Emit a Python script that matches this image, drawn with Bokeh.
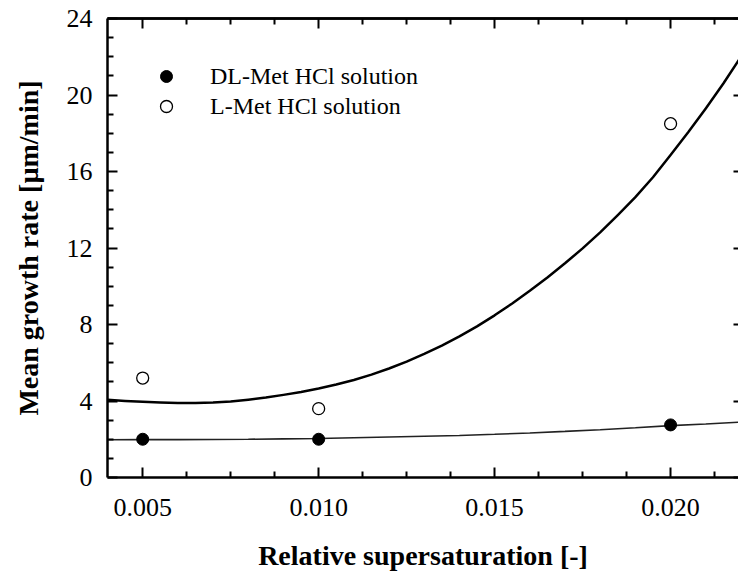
from bokeh.plotting import figure
from bokeh.models import (LinearAxis, FixedTicker, Legend, LegendItem, Range1d,
                          PrintfTickFormatter, ColumnDataSource)
from bokeh.embed import file_html
from bokeh.resources import INLINE

# ---- data ----
sigma = [0.005, 0.010, 0.020]
dl_rate = [2.0, 2.0, 2.75]
l_rate = [5.2, 3.6, 18.5]

# fitted curves
fit_l_x = [0.0040, 0.0045, 0.0050, 0.0055, 0.0060, 0.0065, 0.0070, 0.0075,
           0.0080, 0.0085, 0.0090, 0.0095, 0.0100, 0.0105, 0.0110, 0.0115,
           0.0120, 0.0125, 0.0130, 0.0135, 0.0140, 0.0145, 0.0150, 0.0155,
           0.0160, 0.0165, 0.0170, 0.0175, 0.0180, 0.0185, 0.0190, 0.0195,
           0.0200, 0.0205, 0.0210, 0.0215, 0.0220]
fit_l_y = [4.06, 4.00, 3.96, 3.92, 3.90, 3.89, 3.92, 3.98,
           4.07, 4.18, 4.32, 4.47, 4.65, 4.86, 5.10, 5.38,
           5.70, 6.06, 6.46, 6.90, 7.38, 7.90, 8.48, 9.10,
           9.76, 10.46, 11.20, 11.98, 12.82, 13.72, 14.66, 15.70,
           16.86, 18.05, 19.30, 20.60, 22.00]
fit_dl_x = [0.004, 0.005, 0.006, 0.007, 0.008, 0.009, 0.010, 0.011, 0.012, 0.013,
            0.014, 0.015, 0.016, 0.017, 0.018, 0.019, 0.020, 0.021, 0.022]
fit_dl_y = [1.97, 1.98, 1.98, 1.99, 2.00, 2.02, 2.04, 2.08, 2.12, 2.16,
            2.20, 2.26, 2.33, 2.41, 2.50, 2.60, 2.71, 2.80, 2.90]

x_ticks = [0.005, 0.010, 0.015, 0.020]
x_minor = [0.00625, 0.0075, 0.00875, 0.01125, 0.0125, 0.01375,
           0.01625, 0.0175, 0.01875, 0.02125]
y_ticks = [0, 4, 8, 12, 16, 20, 24]
y_minor = [1, 2, 3, 5, 6, 7, 9, 10, 11, 13, 14, 15, 17, 18, 19, 21, 22, 23]

labels = ["DL-Met HCl solution", "L-Met HCl solution"]
x_title = "Relative supersaturation [-]"
y_title = "Mean growth rate [\u00b5m/min]"

FONT = "Liberation Serif"

p = figure(width=738, height=574, output_backend="svg", toolbar_location=None,
           x_range=Range1d(0.004, 0.02193), y_range=Range1d(0, 24),
           min_border_left=107, min_border_right=0, min_border_top=18,
           min_border_bottom=97)
p.outline_line_color = None
p.grid.visible = False
p.background_fill_color = "white"
p.border_fill_color = "white"

src_l = ColumnDataSource(dict(x=fit_l_x, y=fit_l_y))
src_dl = ColumnDataSource(dict(x=fit_dl_x, y=fit_dl_y))
pts = ColumnDataSource(dict(x=sigma, dl=dl_rate, l=l_rate))

p.line("x", "y", source=src_l, line_color="black", line_width=2.5,
       line_join="round")
p.line("x", "y", source=src_dl, line_color="#222222", line_width=1.6)

r_dl = p.scatter("x", "dl", source=pts, marker="circle", size=12,
                 fill_color="black", line_color="black")
r_l = p.scatter("x", "l", source=pts, marker="circle", size=12,
                fill_color="white", line_color="black", line_width=1.3)


def style_axis(ax, ticks, minor, major_len=10, minor_len=6):
    ax.ticker = FixedTicker(ticks=ticks, minor_ticks=minor)
    ax.axis_line_color = "black"
    ax.axis_line_width = 2.5
    ax.major_tick_line_color = "black"
    ax.major_tick_line_width = 2
    ax.minor_tick_line_color = "black"
    ax.minor_tick_line_width = 2
    ax.major_tick_in = major_len
    ax.major_tick_out = 0
    ax.minor_tick_in = minor_len
    ax.minor_tick_out = 0
    ax.major_label_text_font = FONT
    ax.major_label_text_font_size = "26px"
    ax.major_label_text_color = "black"


xa = p.xaxis[0]
style_axis(xa, x_ticks, x_minor)
xa.formatter = PrintfTickFormatter(format="%.3f")
xa.major_label_standoff = 21
xa.axis_label = x_title
xa.axis_label_text_font = FONT
xa.axis_label_text_font_style = "bold"
xa.axis_label_text_font_size = "28px"
xa.axis_label_text_color = "black"
xa.axis_label_standoff = 21

ya = p.yaxis[0]
style_axis(ya, y_ticks, y_minor)
ya.major_label_standoff = 15
ya.axis_label = y_title
ya.axis_label_text_font = FONT
ya.axis_label_text_font_style = "bold"
ya.axis_label_text_font_size = "28px"
ya.axis_label_text_color = "black"
ya.axis_label_standoff = 20

# top border: major-length ticks and minor-length ticks (no labels)
top_major = LinearAxis()
style_axis(top_major, [], x_ticks, minor_len=10)
top_major.major_label_standoff = 0
p.add_layout(top_major, "above")
top_minor = LinearAxis()
style_axis(top_minor, [], x_minor, minor_len=6)
top_minor.major_label_standoff = 0
p.add_layout(top_minor, "above")

# right border: short inward ticks at the major positions
right = LinearAxis()
style_axis(right, [], y_ticks, minor_len=5)
right.major_label_standoff = 0
right.axis_line_color = "#bbbbbb"
right.axis_line_width = 1
right.axis_line_dash = "2 4"
p.add_layout(right, "right")

legend = Legend(items=[LegendItem(label=labels[0], renderers=[r_dl]),
                       LegendItem(label=labels[1], renderers=[r_l])],
                location=(44, 356), glyph_width=30, glyph_height=30,
                label_height=30, label_standoff=29, spacing=0, padding=0,
                margin=0, border_line_alpha=0, background_fill_alpha=0,
                label_text_font=FONT, label_text_font_size="24px",
                label_text_color="black")
p.add_layout(legend)

open("out.html", "w").write(file_html(p, INLINE))
